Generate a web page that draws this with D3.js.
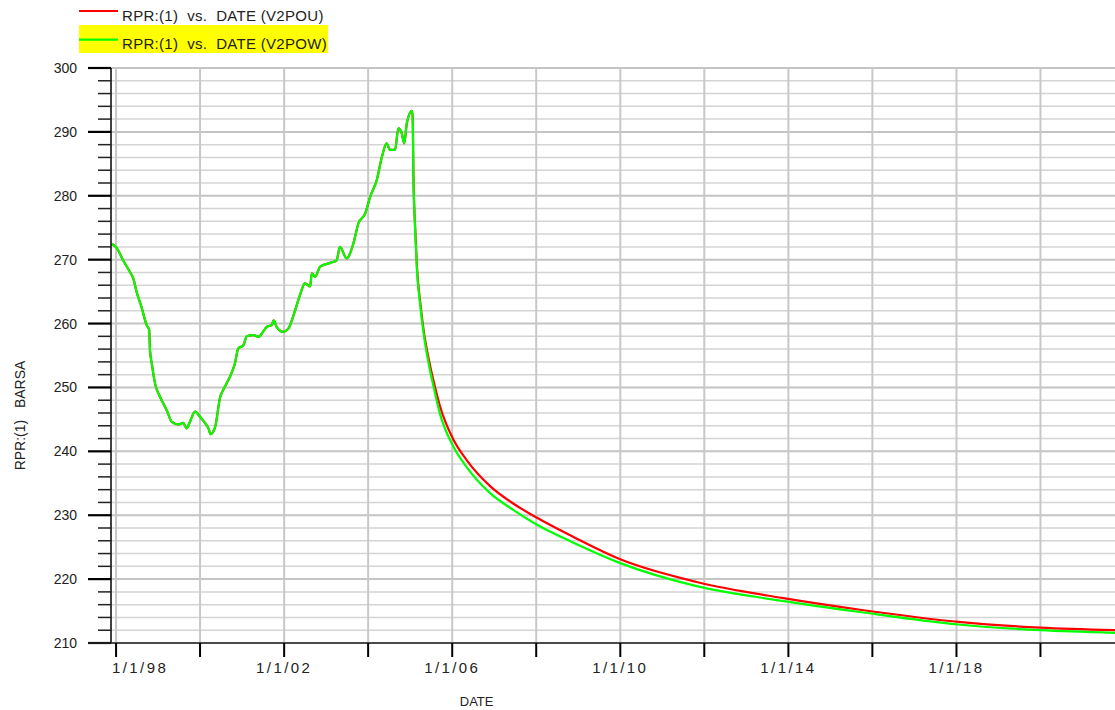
<!DOCTYPE html>
<html>
<head>
<meta charset="utf-8">
<title>RPR:(1) vs. DATE</title>
<script src="https://cdn.jsdelivr.net/npm/d3@7"></script>
<style>
    body { margin: 0; background: #fff; }
    svg { display: block; font-family: "Liberation Sans", Arial, sans-serif; }
    text { white-space: pre; fill: #222; }
</style>
</head>
<body>
<div id="chart"></div>
<script>
// history (both runs share it)
const histDates = ["1997-11-24", "1998-01-08", "1998-03-03", "1998-05-01", "1998-05-30", "1998-06-28",
    "1998-08-10", "1998-09-24", "1998-10-16", "1998-10-23", "1998-11-07", "1998-12-06", "1999-01-19",
    "1999-03-18", "1999-05-01", "1999-06-25", "1999-08-08", "1999-09-06", "1999-10-05", "1999-11-18",
    "2000-01-01", "2000-02-14", "2000-03-14", "2000-04-01", "2000-05-11", "2000-06-24", "2000-07-20",
    "2000-09-16", "2000-10-30", "2000-11-28", "2001-01-12", "2001-02-10", "2001-04-09", "2001-05-23",
    "2001-06-21", "2001-08-04", "2001-09-17", "2001-10-01", "2001-10-30", "2001-12-24", "2002-02-06",
    "2002-04-05", "2002-05-19", "2002-07-01", "2002-08-15", "2002-08-29", "2002-09-27", "2002-11-10",
    "2003-02-06", "2003-04-02", "2003-05-01", "2003-06-28", "2003-08-26", "2003-10-09", "2003-12-06",
    "2004-01-19", "2004-03-17", "2004-04-30", "2004-06-10", "2004-07-09", "2004-08-22", "2004-09-20",
    "2004-10-19", "2004-11-10", "2004-12-02", "2005-01-15", "2005-01-22", "2005-01-29"];
const histValues = [272.5, 271.8, 269.9, 268.1, 267.1, 265.0,
    262.6, 259.75, 259.0, 255.8, 253.8, 250.6, 248.5,
    246.4, 244.6, 244.2, 244.45, 243.6, 244.6, 246.2,
    245.4, 244.4, 243.6, 242.7, 243.8, 248.5, 249.6,
    251.65, 253.75, 256.1, 256.6, 258.0, 258.2, 257.9,
    258.45, 259.5, 259.75, 260.5, 259.4, 258.7, 259.2,
    262.0, 264.5, 266.3, 265.8, 267.85, 267.3, 268.9,
    269.5, 269.9, 272.0, 270.2, 272.55, 275.7, 277.2,
    279.85, 282.5, 286.1, 288.2, 287.2, 287.2, 290.55,
    289.8, 288.2, 291.3, 293.3, 292.4, 283.0];

// prediction part, one list per run
const fcDates = ["2005-02-13", "2005-02-28", "2005-03-29", "2005-04-27", "2005-06-10", "2005-07-23",
    "2005-09-16", "2006-01-12", "2006-05-08", "2006-11-24", "2007-06-18", "2008-01-08", "2008-11-20",
    "2010-01-01", "2011-10-27", "2013-11-06", "2015-09-16", "2018-01-19", "2020-01-01", "2021-10-10"];
const fcV2POU = [275.0, 269.0, 263.3, 259.0, 254.5, 251.0,
    247.1, 241.8, 238.6, 234.6, 231.8, 229.6, 226.6,
    223.1, 219.55, 217.05, 215.2, 213.3, 212.4, 212.0];
const fcV2POW = [274.5, 268.5, 262.8, 258.45, 253.75, 250.1,
    245.9, 240.7, 237.5, 233.5, 230.8, 228.5, 225.7,
    222.5, 218.9, 216.6, 214.85, 212.9, 212.0, 211.6];

const seriesNames = ["RPR:(1)  vs.  DATE (V2POU)", "RPR:(1)  vs.  DATE (V2POW)"];
const seriesColors = ["#ff0000", "#00ff00"];

const xDomain = ["1997-11-18", "2021-10-10"];
const yDomain = [210, 300];

const width = 1115, height = 710;
const margin = { top: 68, right: 0, bottom: 67, left: 111 };

const parse = d3.timeParse("%Y-%m-%d");
const toPoints = (dates, vals) => dates.map((d, i) => ({ date: parse(d), value: vals[i] }));
const series = [
    toPoints(histDates.concat(fcDates), histValues.concat(fcV2POU)),
    toPoints(histDates.concat(fcDates), histValues.concat(fcV2POW))
];

const svg = d3.select("#chart").append("svg")
    .attr("width", width)
    .attr("height", height);

const x = d3.scaleTime()
    .domain(xDomain.map(parse))
    .range([margin.left, width - margin.right]);
const y = d3.scaleLinear()
    .domain(yDomain)
    .range([height - margin.bottom, margin.top]);

const x0 = margin.left, x1 = width - margin.right;
const y0 = height - margin.bottom, y1 = margin.top;

// grid
const yMinor = d3.range(yDomain[0], yDomain[1] + 1, 2);
const yMajor = d3.range(yDomain[0], yDomain[1] + 1, 10);
const xTicks = x.ticks(d3.timeYear.every(2));

svg.append("g").selectAll("line")
    .data(yMinor.filter(v => v % 10 !== 0))
    .enter().append("line")
    .attr("x1", x0).attr("x2", x1)
    .attr("y1", d => y(d)).attr("y2", d => y(d))
    .attr("stroke", "#d4d4d4").attr("stroke-width", 1.5);

svg.append("g").selectAll("line")
    .data(yMajor)
    .enter().append("line")
    .attr("x1", x0).attr("x2", x1)
    .attr("y1", d => y(d)).attr("y2", d => y(d))
    .attr("stroke", "#c4c4c4").attr("stroke-width", 2);

svg.append("g").selectAll("line")
    .data(xTicks)
    .enter().append("line")
    .attr("x1", d => x(d)).attr("x2", d => x(d))
    .attr("y1", y1).attr("y2", y0)
    .attr("stroke", "#c8c8c8").attr("stroke-width", 2);

// lines, red first so green sits on top
const line = d3.line()
    .x(d => x(d.date))
    .y(d => y(d.value))
    .curve(d3.curveMonotoneX);

svg.append("g").selectAll("path")
    .data(series)
    .enter().append("path")
    .attr("d", line)
    .attr("fill", "none")
    .attr("stroke", (d, i) => seriesColors[i])
    .attr("stroke-width", 2.2);

// y axis
const yAxis = svg.append("g");
yAxis.append("line")
    .attr("x1", x0).attr("x2", x0)
    .attr("y1", y1).attr("y2", y0)
    .attr("stroke", "#000").attr("stroke-width", 1.5);
yAxis.selectAll(".minor")
    .data(yMinor.filter(v => v % 10 !== 0))
    .enter().append("line")
    .attr("x1", x0 - 13).attr("x2", x0)
    .attr("y1", d => y(d)).attr("y2", d => y(d))
    .attr("stroke", "#222").attr("stroke-width", 1.5);
yAxis.selectAll(".major")
    .data(yMajor)
    .enter().append("line")
    .attr("x1", x0 - 23).attr("x2", x0)
    .attr("y1", d => y(d)).attr("y2", d => y(d))
    .attr("stroke", "#000").attr("stroke-width", 2.2);
yAxis.selectAll("text")
    .data(yMajor)
    .enter().append("text")
    .attr("x", x0 - 34)
    .attr("y", d => y(d))
    .attr("dy", "0.36em")
    .attr("text-anchor", "end")
    .attr("font-size", 14)
    .text(d => d);

// x axis
const fmt = d => `${d.getMonth() + 1}/${d.getDate()}/${String(d.getFullYear()).slice(2)}`;
const xAxis = svg.append("g");
xAxis.append("line")
    .attr("x1", x0 - 23).attr("x2", x1)
    .attr("y1", y0).attr("y2", y0)
    .attr("stroke", "#222").attr("stroke-width", 1.5);
xAxis.selectAll("line.tick")
    .data(xTicks)
    .enter().append("line")
    .attr("class", "tick")
    .attr("x1", d => x(d)).attr("x2", d => x(d))
    .attr("y1", y0).attr("y2", y0 + 14)
    .attr("stroke", "#000").attr("stroke-width", 2);
xAxis.selectAll("text")
    .data(xTicks.filter((d, i) => i % 2 === 0))
    .enter().append("text")
    .attr("x", (d, i) => i === 0 ? x(d) - 4 : x(d))
    .attr("y", y0 + 30)
    .attr("text-anchor", (d, i) => i === 0 ? "start" : "middle")
    .attr("font-size", 15)
    .attr("letter-spacing", 2.4)
    .text(fmt);

// axis titles
svg.append("text")
    .attr("x", x(parse("2006-08-01")))
    .attr("y", height - 4)
    .attr("text-anchor", "middle")
    .attr("font-size", 13)
    .text("DATE");

svg.append("text")
    .attr("transform", `translate(25, ${(y0 + y1) / 2 + 60}) rotate(-90)`)
    .attr("text-anchor", "middle")
    .attr("font-size", 14)
    .text("RPR:(1)   BARSA");

// legend
const legend = svg.append("g").attr("transform", "translate(79, 0)");
legend.append("rect")
    .attr("x", 0).attr("y", 25)
    .attr("width", 249).attr("height", 28)
    .attr("fill", "#ffff00");
const item = legend.selectAll(".item")
    .data(seriesNames)
    .enter().append("g")
    .attr("class", "item")
    .attr("transform", (d, i) => `translate(0, ${11 + i * 28.6})`);
item.append("line")
    .attr("x1", 0).attr("x2", 39)
    .attr("stroke", (d, i) => seriesColors[i])
    .attr("stroke-width", 2.2);
item.append("text")
    .attr("x", 43)
    .attr("y", 9.8)
    .attr("font-size", 15)
    .attr("letter-spacing", 0.3)
    .text(d => d);
</script>
</body>
</html>
